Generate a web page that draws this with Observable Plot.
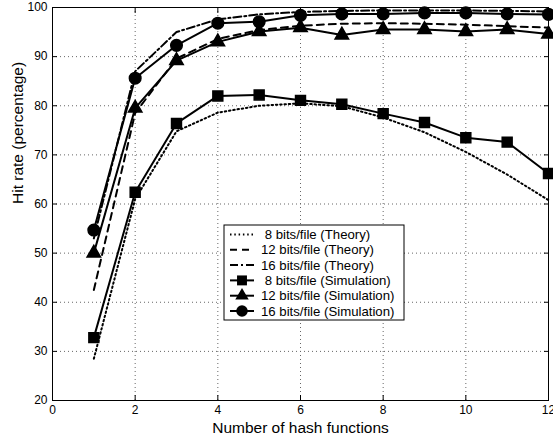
<!DOCTYPE html>
<html><head><meta charset="utf-8">
<script src="https://cdn.jsdelivr.net/npm/d3@7"></script>
<script src="https://cdn.jsdelivr.net/npm/@observablehq/plot@0.6"></script>
<style>
body{margin:0;background:#fff}
svg{font-family:"Liberation Sans",Arial,Helvetica,sans-serif}
</style>
</head><body><div id="chart"></div>
<script>
const hashFunctions = [1,2,3,4,5,6,7,8,9,10,11,12];
const theory8  = [28.5,61.0,74.8,78.6,80.0,80.5,79.9,77.6,74.6,70.6,66.0,60.8];
const theory12 = [42.5,78.5,89.6,93.6,95.4,96.3,96.7,96.8,96.7,96.5,96.2,95.9];
const theory16 = [53.0,87.0,95.0,97.6,98.6,99.1,99.3,99.4,99.4,99.4,99.3,99.2];
const sim8  = [32.8,62.4,76.4,82.0,82.2,81.1,80.3,78.4,76.6,73.5,72.6,66.2];
const sim12 = [50.0,79.5,89.2,93.0,95.1,95.9,94.4,95.5,95.5,95.1,95.5,94.6];
const sim16 = [54.7,85.6,92.3,96.8,97.1,98.4,98.7,98.7,98.9,98.9,98.7,98.6];
const xTicks = [0,2,4,6,8,10,12];
const yTicks = [20,30,40,50,60,70,80,90,100];
const seriesLabels = [
  " 8 bits/file (Theory)",
  "12 bits/file (Theory)",
  "16 bits/file (Theory)",
  " 8 bits/file (Simulation)",
  "12 bits/file (Simulation)",
  "16 bits/file (Simulation)"
];

const rows = vals => hashFunctions.map((k,i)=>({k, v: vals[i]}));

const lineStyles = [
  {strokeDasharray:"1.5,2.8", strokeWidth:2},
  {strokeDasharray:"7,5", strokeWidth:2},
  {strokeDasharray:"8,3,2,3", strokeWidth:2},
  {strokeWidth:2},{strokeWidth:2},{strokeWidth:2}
];
const symbols = [null,null,null,"square","triangle","circle"];
const radii = [0,0,0,5.6,5.0,5.8];
const allSeries = [theory8,theory12,theory16,sim8,sim12,sim16];

const marks = [
  Plot.gridX(xTicks.slice(1,-1), {stroke:"#666", strokeOpacity:1, strokeDasharray:"1,3"}),
  Plot.gridY(yTicks.slice(1,-1), {stroke:"#666", strokeOpacity:1, strokeDasharray:"1,3"})
];
allSeries.forEach((s,i)=>{
  marks.push(Plot.line(rows(s), {x:"k", y:"v", stroke:"black", ...lineStyles[i]}));
});
allSeries.forEach((s,i)=>{
  if (symbols[i]) marks.push(Plot.dot(rows(s), {x:"k", y:"v", symbol:symbols[i], r:radii[i], fill:"black", stroke:"black"}));
});
marks.push(
  Plot.frame({stroke:"black", strokeWidth:1}),
  Plot.axisX(xTicks, {anchor:"bottom", tickSize:-5, tickPadding:10, fontSize:12, label:null}),
  Plot.axisX(xTicks, {anchor:"top", tickSize:-5, tickFormat:()=>"", label:null}),
  Plot.axisY(yTicks, {anchor:"left", tickSize:-5, tickPadding:10, fontSize:12, label:null}),
  Plot.axisY(yTicks, {anchor:"right", tickSize:-5, tickFormat:()=>"", label:null}),
  Plot.text(["Number of hash functions"], {frameAnchor:"bottom", lineAnchor:"middle", dy:28, fontSize:15.5, fill:"black"}),
  Plot.text(["Hit rate (percentage)"], {frameAnchor:"left", lineAnchor:"middle", dx:-34, rotate:-90, fontSize:15.5, fill:"black"})
);

const chart = Plot.plot({
  width:553, height:438,
  marginLeft:52, marginRight:5, marginTop:7, marginBottom:38,
  x:{domain:[0,12]},
  y:{domain:[20,100]},
  style:{background:"white", color:"black", fontFamily:'"Liberation Sans",Arial,sans-serif'},
  marks
});
document.getElementById("chart").appendChild(chart);

// legend inside the plot
const svg = d3.select(chart);
const lg = svg.append("g").attr("text-anchor","start");
const bx=224, by=225, bw=180, bh=95, rowH=15.3, y0=234.5;
lg.append("rect").attr("x",bx).attr("y",by).attr("width",bw).attr("height",bh)
  .attr("fill","white").attr("stroke","black").attr("stroke-width",1);
seriesLabels.forEach((lab,i)=>{
  const yy = y0 + i*rowH;
  const st = lineStyles[i];
  lg.append("line").attr("x1",230).attr("x2",254).attr("y1",yy).attr("y2",yy)
    .attr("stroke","black").attr("stroke-width",st.strokeWidth)
    .attr("stroke-dasharray",st.strokeDasharray||null);
  if (symbols[i]) {
    const symType = {square:d3.symbolSquare, triangle:d3.symbolTriangle, circle:d3.symbolCircle}[symbols[i]];
    lg.append("path").attr("d", d3.symbol(symType, Math.PI*radii[i]*radii[i])())
      .attr("transform",`translate(242,${yy})`).attr("fill","black");
  }
  lg.append("text").attr("x",261).attr("y",yy).attr("dy","0.35em")
    .attr("text-anchor","start")
    .attr("font-size",13.2).attr("fill","black")
    .style("white-space","pre").text(lab);
});
</script>
</body></html>
